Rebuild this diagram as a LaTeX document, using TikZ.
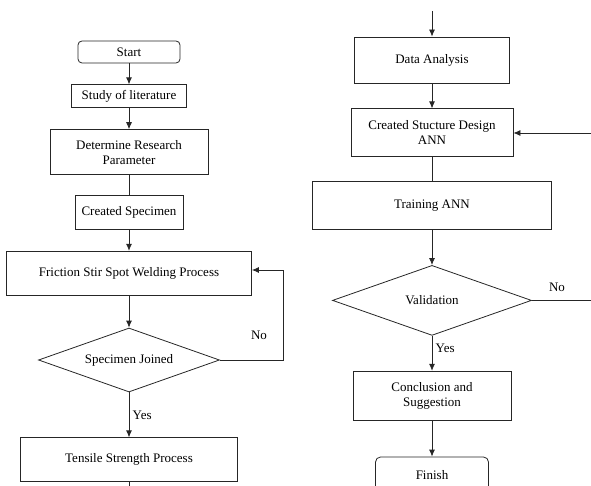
\documentclass[tikz,border=0pt]{standalone}
\usepackage{fontspec}
\setmainfont{Liberation Serif}
\usetikzlibrary{arrows.meta,positioning,shapes.geometric}

\begin{document}
\begin{tikzpicture}[
    x=1pt, y=-1pt,
    >={Latex[length=7pt,width=6pt]},
    line/.style={draw=black!85, line width=0.8pt},
    box/.style={line, rectangle, align=center, inner sep=2pt,
        font=\fontsize{13}{15}\selectfont},
    term/.style={box, rounded corners=4pt},
    decide/.style={line, diamond, shape aspect=2.8, inner sep=0pt,
        font=\fontsize{13}{15}\selectfont},
    lbl/.style={font=\fontsize{13}{15}\selectfont},
]
\useasboundingbox (0,0) rectangle (591,486);

% left column
\node[term, minimum width=102pt, minimum height=22pt] (start) at (129,52) {Start};
\node[box, below=21pt of start, minimum width=115pt, minimum height=23pt] (study) {Study of literature};
\node[box, below=21pt of study, minimum width=158pt, minimum height=45pt] (param) {Determine Research\\Parameter};
\node[box, below=20pt of param, minimum width=108pt, minimum height=34pt] (specimen) {Created Specimen};
\node[box, below=21pt of specimen, minimum width=245pt, minimum height=44pt] (fssw) {Friction Stir Spot Welding Process};
\node[decide, below=32pt of fssw, minimum width=181pt, minimum height=64pt] (joined) {Specimen Joined};
\node[box, below=45pt of joined, minimum width=217pt, minimum height=44pt] (tensile) {Tensile Strength Process};
\coordinate (tensout) at (129,490);

% right column
\coordinate (datain) at (432,11);
\node[box, minimum width=155pt, minimum height=46pt] (data) at (432,60) {Data Analysis};
\node[box, below=25pt of data, minimum width=162pt, minimum height=48pt] (design) {Created Stucture Design\\ANN};
\node[box, below=24pt of design, minimum width=239pt, minimum height=48pt] (training) {Training ANN};
\node[decide, below=35pt of training, minimum width=199pt, minimum height=70pt] (valid) {Validation};
\node[box, below=35pt of valid, minimum width=158pt, minimum height=49pt] (concl) {Conclusion and\\Suggestion};
\node[term, rounded corners=5pt, below=36pt of concl, minimum width=113pt, minimum height=36pt] (finish) {Finish};
\coordinate (loopin) at (591,133);
\coordinate (loopout) at (591,298);

\draw[line, ->] (start) -- (study);
\draw[line, ->] (study) -- (param);
\draw[line] (param) -- (specimen);
\draw[line, ->] (specimen) -- (fssw);
\draw[line, ->] (fssw) -- (joined);
\draw[line, ->] (joined.east) -| (283,270) -- (fssw.east |- 0,270);
\node[lbl] (no1) at (259,335) {No};
\draw[line, ->] (joined) -- node[lbl, right, pos=0.5] (yes1) {Yes} (tensile);
\draw[line] (tensile) -- (tensout);

\draw[line, ->] (datain) -- (data);
\draw[line, ->] (data) -- (design);
\draw[line, ->] (loopin) -- (design.east |- loopin);
\draw[line] (design) -- (training);
\draw[line, ->] (training) -- (valid);
\draw[line] (valid.east) -- (valid.east -| loopout);
\node[lbl] (no2) at (557,287) {No};
\draw[line, ->] (valid) -- node[lbl, right, pos=0.35] (yes2) {Yes} (concl);
\draw[line, ->] (concl) -- (finish);
\end{tikzpicture}
\end{document}
